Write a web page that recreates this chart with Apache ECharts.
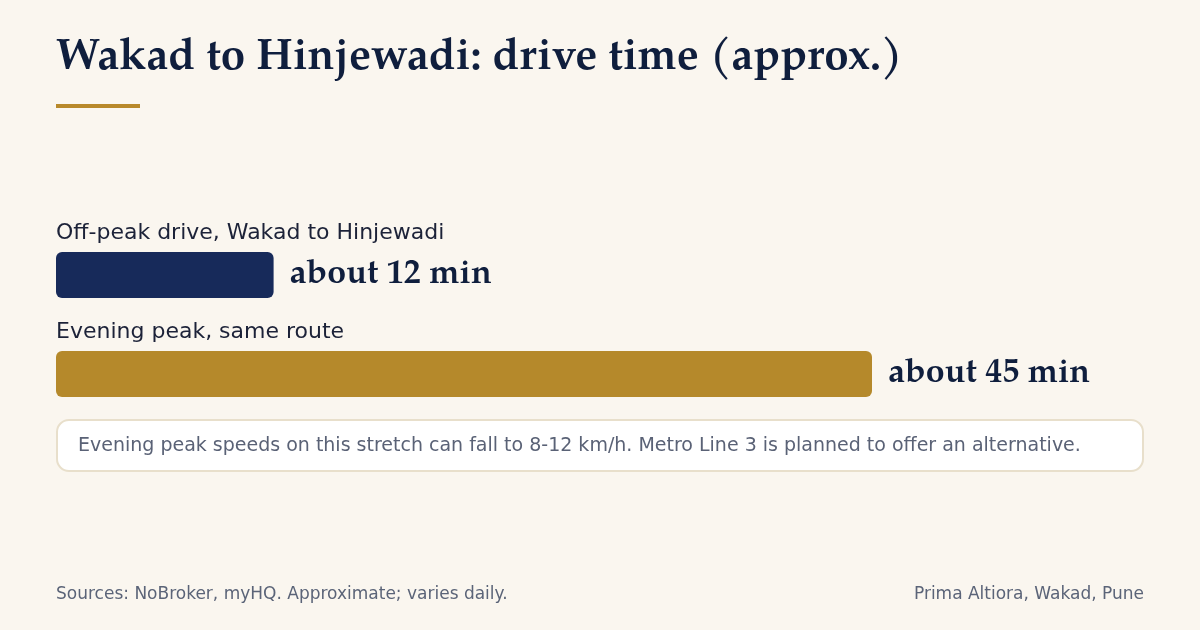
<!DOCTYPE html>
<html>
<head>
<meta charset="utf-8">
<style>
  html, body { margin: 0; padding: 0; background: #faf6ef; }
  #main { width: 1200px; height: 630px; }
</style>
<script src="https://cdn.jsdelivr.net/npm/echarts@6/dist/echarts.min.js"></script>
</head>
<body>
<div id="main"></div>
<script>
var SERIF = "'Palatino Linotype', Palatino, 'P052', 'TeX Gyre Pagella', 'URW Palladio L', 'DejaVu Serif', serif";
var SANS = "'DejaVu Sans', sans-serif";

// data
var categories = ['Off-peak drive, Wakad to Hinjewadi', 'Evening peak, same route'];
var minutes = [12, 45];
var barColors = ['#172a5a', '#b5892b'];
var axisMax = 60;

var titleText = 'Wakad to Hinjewadi: drive time (approx.)';
var noteText = 'Evening peak speeds on this stretch can fall to 8-12 km/h. Metro Line 3 is planned to offer an alternative.';
var sourceText = 'Sources: NoBroker, myHQ. Approximate; varies daily.';
var creditText = 'Prima Altiora, Wakad, Pune';

var myChart = echarts.init(document.getElementById('main'));

myChart.setOption({
    backgroundColor: '#faf6ef',
    animation: false,
    grid: { left: 56, right: 56, top: 225.5, height: 198 },
    xAxis: {
        type: 'value',
        min: 0,
        max: axisMax,
        show: false
    },
    yAxis: {
        type: 'category',
        data: categories,
        inverse: true,
        axisLine: { show: false },
        axisTick: { show: false },
        splitLine: { show: false },
        axisLabel: {
            inside: true,
            margin: 0,
            align: 'left',
            verticalAlign: 'bottom',
            lineHeight: 26,
            padding: [0, 0, 29, 0],
            color: '#1c2238',
            fontFamily: SANS,
            fontSize: 22
        }
    },
    series: [{
        type: 'bar',
        barWidth: 46,
        data: minutes.map(function (v, i) {
            return { value: v, itemStyle: { color: barColors[i] } };
        }),
        itemStyle: { borderRadius: 6 },
        label: {
            show: true,
            position: 'right',
            distance: 16,
            formatter: 'about {c} min',
            color: '#0f1e3d',
            fontFamily: SERIF,
            fontWeight: 'bold',
            fontSize: 34
        }
    }],
    graphic: [
        {
            type: 'text',
            left: 56,
            top: 37,
            style: {
                text: titleText,
                fill: '#0f1e3d',
                font: 'bold 44px ' + SERIF
            }
        },
        {
            type: 'rect',
            shape: { x: 56, y: 104, width: 84, height: 4 },
            style: { fill: '#b8892b' }
        },
        {
            type: 'rect',
            shape: { x: 57, y: 420, width: 1086, height: 51, r: 12 },
            style: { fill: '#ffffff', stroke: '#e8dfcb', lineWidth: 2 }
        },
        {
            type: 'text',
            x: 78,
            y: 446,
            style: {
                text: noteText,
                fill: '#5a6276',
                font: '19px ' + SANS,
                verticalAlign: 'middle'
            }
        },
        {
            type: 'text',
            x: 56,
            y: 595,
            style: {
                text: sourceText,
                fill: '#5b6478',
                font: '17px ' + SANS,
                verticalAlign: 'middle'
            }
        },
        {
            type: 'text',
            x: 1144,
            y: 595,
            style: {
                text: creditText,
                fill: '#5b6478',
                font: '17px ' + SANS,
                align: 'right',
                verticalAlign: 'middle'
            }
        }
    ]
});
</script>
</body>
</html>
